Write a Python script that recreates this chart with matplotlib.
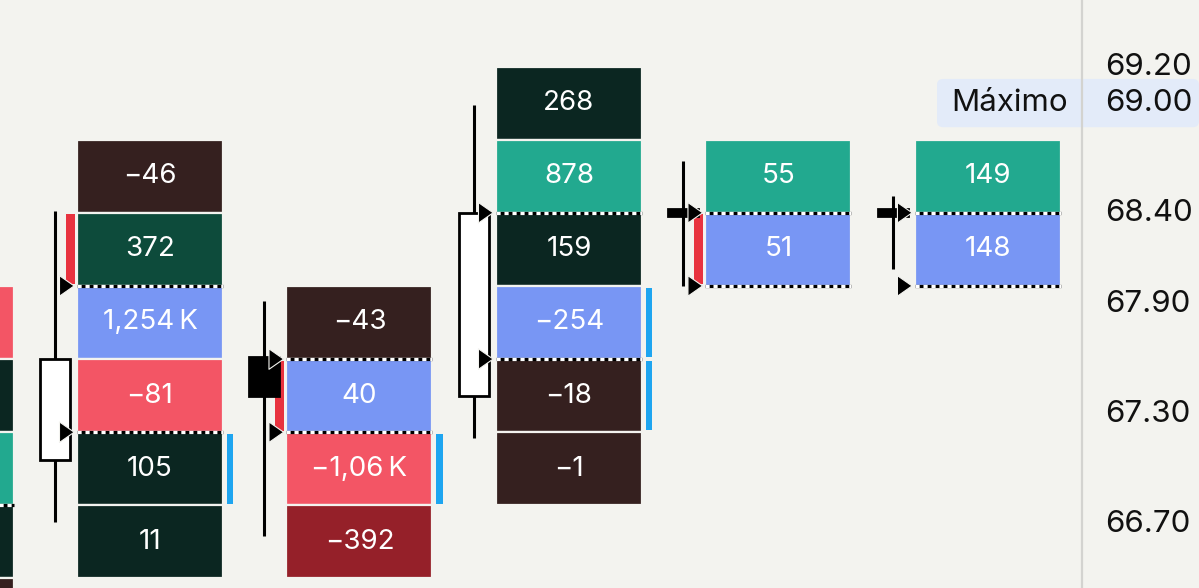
import matplotlib.pyplot as plt
from matplotlib.patches import Rectangle, Polygon, FancyBboxPatch
from matplotlib.transforms import ScaledTranslation

# ---- datos del gráfico ----
row_h = 0.4  # altura de cada nivel de precio

# precio inferior de cada celda, por columna (columna 0 queda cortada a la izquierda)
cell_low = [
    [67.6, 67.2, 66.8, 66.4, 66.0],
    [68.4, 68.0, 67.6, 67.2, 66.8, 66.4],
    [67.6, 67.2, 66.8, 66.4],
    [68.8, 68.4, 68.0, 67.6, 67.2, 66.8],
    [68.4, 68.0],
    [68.4, 68.0],
]
cell_text = [
    ["", "", "", "", ""],
    ["−46", "372", "1,254\u2009K", "−81", "105", "11"],
    ["−43", "40", "−1,06\u2009K", "−392"],
    ["268", "878", "159", "−254", "−18", "−1"],
    ["55", "51"],
    ["149", "148"],
]
cell_kind = [
    ["red", "dark", "teal", "dark", "brown"],
    ["brown", "green", "poc", "red", "dark", "dark"],
    ["brown", "poc", "red", "darkred"],
    ["dark", "teal", "dark", "poc", "brown", "brown"],
    ["teal", "poc"],
    ["teal", "poc"],
]

# velas (columnas 1..5)
candle_col = [1, 2, 3, 4, 5]
c_open = [67.05, 67.61, 67.40, 68.40, 68.40]
c_close = [67.60, 67.40, 68.40, 68.40, 68.40]
c_high = [68.41, 67.92, 68.99, 68.685, 68.49]
c_low = [66.71, 66.63, 67.17, 68.00, 68.09]

# líneas del área de valor por columna
va_lines = [[66.8], [68.0, 67.2], [67.6, 67.2], [68.4, 67.6], [68.4, 68.0], [68.4, 68.0]]

# barras laterales
red_bar_col = [1, 2, 4]
red_bar_low = [68.0, 67.2, 68.0]
blue_bar_col = [1, 2, 3, 3]
blue_bar_low = [66.8, 66.8, 67.6, 67.2]

price_ticks = [69.2, 69.0, 68.4, 67.9, 67.3, 66.7]
max_price = 69.0
max_label = "Máximo"

# ---- estilo ----
bg = "#f3f3ef"
palette = {
    "brown": "#35201f",
    "green": "#0d4b3b",
    "dark": "#0b2621",
    "poc": "#7896f4",
    "red": "#f35565",
    "darkred": "#952029",
    "teal": "#22a98f",
}
font = ["Inter", "DejaVu Sans"]

fig = plt.figure(figsize=(11.99, 5.88), dpi=100, facecolor=bg)
ax = fig.add_axes([0, 0, 1082 / 1199, 1])
ax.set_facecolor(bg)
ax.set_xlim(0.284, 5.449)
ax.set_ylim(66.348, 69.5637)

half_w = 0.3485
wick_dx = -0.4535
body_w = 0.143

# celdas
for i, (lows, texts, kinds) in enumerate(zip(cell_low, cell_text, cell_kind)):
    for lo, t, k in zip(lows, texts, kinds):
        ax.add_patch(Rectangle((i - half_w, lo), 2 * half_w, row_h,
                               facecolor=palette[k], edgecolor=bg, lw=1.6, zorder=2))
        if t:
            ax.text(i, lo + row_h / 2, t, color="white", ha="center", va="center",
                    fontsize=20, family=font, zorder=5)

# líneas discontinuas
for i, lines in enumerate(va_lines):
    for p in lines:
        ax.plot([i - half_w, i + half_w], [p, p], color="black", lw=2.3,
                solid_capstyle="butt", zorder=3)
        ax.plot([i - half_w, i + half_w], [p, p], color="white", lw=2.3,
                linestyle=(0, (1.3, 1.2)), dash_capstyle="butt", zorder=3.1)

# barras rojas a la izquierda
for c, lo in zip(red_bar_col, red_bar_low):
    ax.add_patch(Rectangle((c - 0.401, lo + 0.008), 0.041, row_h - 0.016,
                           facecolor="#e8333f", lw=0, zorder=3))

# barras azules a la derecha
for c, lo in zip(blue_bar_col, blue_bar_low):
    ax.add_patch(Rectangle((c + 0.3675, lo + 0.01), 0.031, row_h - 0.02,
                           facecolor="#1ea5f0", lw=0, zorder=3))

# velas
for c, o, cl, h, l in zip(candle_col, c_open, c_close, c_high, c_low):
    x = c + wick_dx
    ax.plot([x, x], [l, h], color="black", lw=2.2, solid_capstyle="butt", zorder=3)
    lo_b, hi_b = min(o, cl), max(o, cl)
    if hi_b - lo_b < 0.03:
        lo_b, hi_b = o - 0.02, o + 0.02
    face = "white" if cl > o else "black"
    ax.add_patch(Rectangle((x - body_w / 2, lo_b), body_w, hi_b - lo_b,
                           facecolor=face, edgecolor="black", lw=2.0, zorder=3.5))

# triángulos en las líneas del área de valor
for i, lines in enumerate(va_lines):
    for p in lines:
        tri = [(i - 0.362, p), (i - 0.432, p + 0.056), (i - 0.432, p - 0.056)]
        ax.add_patch(Polygon(tri, closed=True, facecolor="black", edgecolor=bg,
                             lw=0.8, joinstyle="round", zorder=4))

# etiqueta de máximo
ax.add_patch(FancyBboxPatch((4.757, max_price - 0.132), 1.25, 0.264,
                            boxstyle="round,pad=0,rounding_size=0.03",
                            facecolor="#e3ebf9", edgecolor="none", zorder=1,
                            clip_on=False))
ax.text(5.38, max_price, max_label, ha="right", va="center", fontsize=22.5,
        family=font, color="#111111", zorder=5)

# eje de precios a la derecha
for s in ["top", "bottom", "left"]:
    ax.spines[s].set_visible(False)
ax.spines["right"].set_color("#d3d3d0")
ax.spines["right"].set_linewidth(1.6)
ax.set_xticks([])
ax.yaxis.tick_right()
ax.set_yticks(price_ticks)
ax.set_yticklabels([f"{p:.2f}" for p in price_ticks])
ax.tick_params(axis="y", length=0, pad=17, labelsize=22.5, labelcolor="#111111")
shift = ScaledTranslation(0, 3 / 100, fig.dpi_scale_trans)
for lab in ax.get_yticklabels():
    lab.set_family(font)
    lab.set_transform(lab.get_transform() + shift)

fig.savefig("out.png", dpi=100, facecolor=bg)
